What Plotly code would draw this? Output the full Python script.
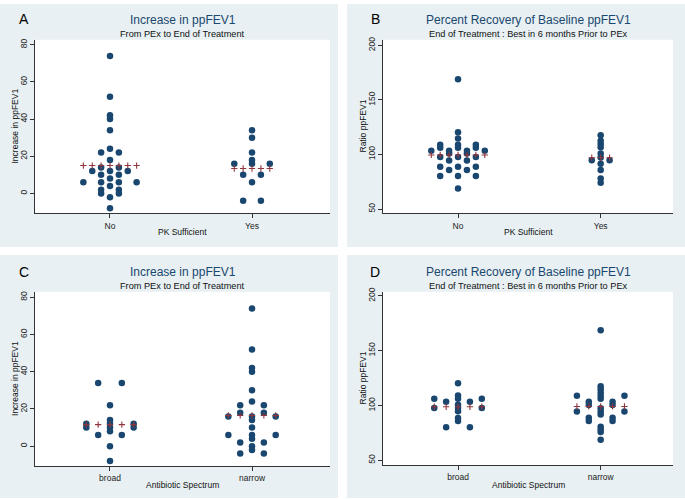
import numpy as np
import plotly.graph_objects as go
from collections import Counter

# ---------------- data ----------------
cats_pk = ["No", "Yes"]
cats_ab = ["broad", "narrow"]

# Panel A: Increase in ppFEV1 by PK Sufficient
A_no = [74, 52, 42, 40, 34, 24, 22, 22, 18, 14, 14, 12, 12, 12, 10, 10, 8,
        6, 6, 6, 6, 4, 2, 2, 0, 0, -2, -8]
A_yes = [34, 30, 22, 18, 16, 16, 16, 10, 10, 6, -4, -4]
A_mean = [15.0, 13.4]

# Panel B: Ratio ppFEV1 by PK Sufficient
B_no = [169.0, 120.3, 114.6, 109.0, 109.0, 109.0, 106.2, 106.2, 106.2,
        103.5, 103.5, 103.5, 103.5, 100.8, 100.8, 97.7, 97.7, 97.7,
        94.4, 94.4, 88.8, 88.8, 88.8, 85.9, 85.9, 80.4, 80.4, 80.4, 68.8]
B_yes = [117.6, 112.5, 109.7, 106.7, 100.9, 97.3, 94.8, 94.8, 91.5, 85.8,
         77.9, 74.2]
B_mean = [99.6, 97.0]

# Panel C: Increase in ppFEV1 by Antibiotic Spectrum
C_broad = [34, 34, 22, 14, 12, 12, 12, 10, 10, 10, 8, 6, 6, 0, -8]
C_narrow = [74, 52, 42, 40, 30, 24, 22, 22, 18, 18, 16, 16, 16, 14, 10,
            6, 6, 6, 4, 2, 2, 0, -2, -4, -4]
C_mean = [11.6, 16.5]

# Panel D: Ratio ppFEV1 by Antibiotic Spectrum
D_broad = [120.4, 109.2, 106.3, 106.3, 106.3, 103.4, 103.4, 100.7,
           97.7, 97.7, 97.7, 94.7, 88.7, 86.0, 80.2, 80.2]
D_narrow = [168.6, 117.6, 114.8, 111.9, 109.0, 109.0, 109.0, 106.2,
            103.4, 103.4, 100.5, 100.5, 97.5, 94.6, 94.6, 94.6, 91.8,
            88.8, 88.8, 86.0, 86.0, 80.6, 78.2, 75.8, 68.8]
D_mean = [98.9, 99.2]

# ---------------- styling ----------------
W, H = 685, 500
NAVY = "#1a476f"
MAROON = "#90353b"
BG = "rgb(232,240,243)"
FONT = "Liberation Sans, Arial, sans-serif"

panels = [
    dict(letter="A", groups=[A_no, A_yes], means=A_mean, cats=cats_pk,
         title="Increase in ppFEV1", sub="From PEx to End of Treatment",
         ytitle="Increase in ppFEV1", xtitle="PK Sufficient",
         bg=(0, 0, 338, 245), plot=(35, 36, 330, 211),
         xr=[0.472, 2.549], yr=[-10.7, 82.7], yt=[0, 20, 40, 60, 80],
         letter_xy=(24, 15), title_y=16, sub_y=30, xt_y=230),
    dict(letter="B", groups=[B_no, B_yes], means=B_mean, cats=cats_pk,
         title="Percent Recovery of Baseline ppFEV1",
         sub="End of Treatment : Best in 6 months Prior to PEx",
         ytitle="Ratio ppFEV1", xtitle="PK Sufficient",
         bg=(347, 0, 685, 245), plot=(383, 36, 673, 211),
         xr=[0.474, 2.507], yr=[46.1, 205.2], yt=[50, 100, 150, 200],
         letter_xy=(375, 15), title_y=16, sub_y=30, xt_y=230),
    dict(letter="C", groups=[C_broad, C_narrow], means=C_mean, cats=cats_ab,
         title="Increase in ppFEV1", sub="From PEx to End of Treatment",
         ytitle="Increase in ppFEV1", xtitle="Antibiotic Spectrum",
         bg=(0, 253, 338, 498), plot=(35, 290, 330, 466),
         xr=[0.472, 2.549], yr=[-10.8, 83.0], yt=[0, 20, 40, 60, 80],
         letter_xy=(24, 270), title_y=270, sub_y=284, xt_y=485),
    dict(letter="D", groups=[D_broad, D_narrow], means=D_mean, cats=cats_ab,
         title="Percent Recovery of Baseline ppFEV1",
         sub="End of Treatment : Best in 6 months Prior to PEx",
         ytitle="Ratio ppFEV1", xtitle="Antibiotic Spectrum",
         bg=(347, 253, 685, 498), plot=(383, 290, 673, 465),
         xr=[0.474, 2.507], yr=[45.5, 203.9], yt=[50, 100, 150, 200],
         letter_xy=(375, 270), title_y=270, sub_y=284, xt_y=485),
]


def dot_offsets(values, d):
    cnt = Counter(values)
    seen = {}
    xs = []
    for v in values:
        n = cnt[v]
        i = seen.get(v, 0)
        seen[v] = i + 1
        xs.append((i - (n - 1) / 2) * d)
    return xs


fig = go.Figure()
shapes = []
annotations = []

def px(x):
    return x / W

def py(y):
    return 1 - y / H

for k, p in enumerate(panels, start=1):
    xa = "x" if k == 1 else f"x{k}"
    ya = "y" if k == 1 else f"y{k}"
    maxc = max(max(Counter(g).values()) for g in p["groups"])
    d = 1.0 / (2 * maxc)
    for gi, g in enumerate(p["groups"]):
        center = gi + 1
        offs = dot_offsets(g, d)
        fig.add_trace(go.Scatter(
            x=[center + o for o in offs], y=g, mode="markers",
            xaxis=xa, yaxis=ya, showlegend=False, hoverinfo="skip",
            marker=dict(color=NAVY, size=6.5, line=dict(width=0))))
    for gi, g in enumerate(p["groups"]):
        center = gi + 1
        m = max(Counter(g).values())
        half = (m - 1) / 2
        steps = np.arange(-half, half + 1e-9, 0.5) * d
        fig.add_trace(go.Scatter(
            x=[center + s for s in steps], y=[p["means"][gi]] * len(steps),
            mode="markers", xaxis=xa, yaxis=ya, showlegend=False,
            hoverinfo="skip",
            marker=dict(symbol="cross-thin", size=4.5,
                        line=dict(color=MAROON, width=1.1))))

    x0, y0, x1, y1 = p["plot"]
    bx0, by0, bx1, by1 = p["bg"]
    shapes.append(dict(type="rect", xref="paper", yref="paper",
                       x0=px(bx0), x1=px(bx1), y0=py(by1), y1=py(by0),
                       fillcolor=BG, line=dict(width=0), layer="below"))
    shapes.append(dict(type="rect", xref="paper", yref="paper",
                       x0=px(x0), x1=px(x1), y0=py(y1), y1=py(y0),
                       fillcolor="white", line=dict(width=0), layer="below"))

    axx = dict(domain=[px(x0), px(x1)], anchor=ya, range=p["xr"],
               tickvals=[1, 2], ticktext=p["cats"], showgrid=False,
               zeroline=False, showline=True, linecolor="#333",
               linewidth=1, ticks="outside", ticklen=4, tickcolor="#333",
               tickfont=dict(family=FONT, size=8.5, color="#222"),
               fixedrange=True)
    axy = dict(domain=[py(y1), py(y0)], anchor=xa, range=p["yr"],
               tickvals=p["yt"], showgrid=False, zeroline=False,
               showline=True, linecolor="#333", linewidth=1,
               ticks="outside", ticklen=4, tickcolor="#333", tickangle=-90,
               tickfont=dict(family=FONT, size=8.5, color="#222"),
               fixedrange=True)
    fig.update_layout(**{("xaxis" if k == 1 else f"xaxis{k}"): axx,
                         ("yaxis" if k == 1 else f"yaxis{k}"): axy})

    cx = (x0 + x1) / 2
    lx, ly = p["letter_xy"]
    annotations += [
        dict(text=p["letter"], x=px(lx), y=py(ly), xref="paper", yref="paper",
             showarrow=False, xanchor="center", yanchor="middle",
             font=dict(family=FONT, size=14, color="#000")),
        dict(text=p["title"], x=px(cx), y=py(p["title_y"]), xref="paper",
             yref="paper", showarrow=False, xanchor="center",
             yanchor="middle", font=dict(family=FONT, size=12, color=NAVY)),
        dict(text=p["sub"], x=px(cx), y=py(p["sub_y"]), xref="paper",
             yref="paper", showarrow=False, xanchor="center",
             yanchor="middle", font=dict(family=FONT, size=9.2, color="#111")),
        dict(text=p["ytitle"], x=px(x0 - 20), y=py((y0 + y1) / 2),
             xref="paper", yref="paper", showarrow=False, textangle=-90,
             xanchor="center", yanchor="middle",
             font=dict(family=FONT, size=8.5, color="#111")),
        dict(text=p["xtitle"], x=px(cx), y=py(p["xt_y"]), xref="paper",
             yref="paper", showarrow=False, xanchor="center",
             yanchor="middle", font=dict(family=FONT, size=8.5, color="#111")),
    ]

fig.update_layout(width=W, height=H, margin=dict(l=0, r=0, t=0, b=0),
                  paper_bgcolor="white", plot_bgcolor="rgba(0,0,0,0)",
                  shapes=shapes, annotations=annotations, showlegend=False)

fig.write_html("out.html", config={"displayModeBar": False},
               post_script="document.body.style.margin='0';"
                           "document.body.style.overflow='hidden';")
